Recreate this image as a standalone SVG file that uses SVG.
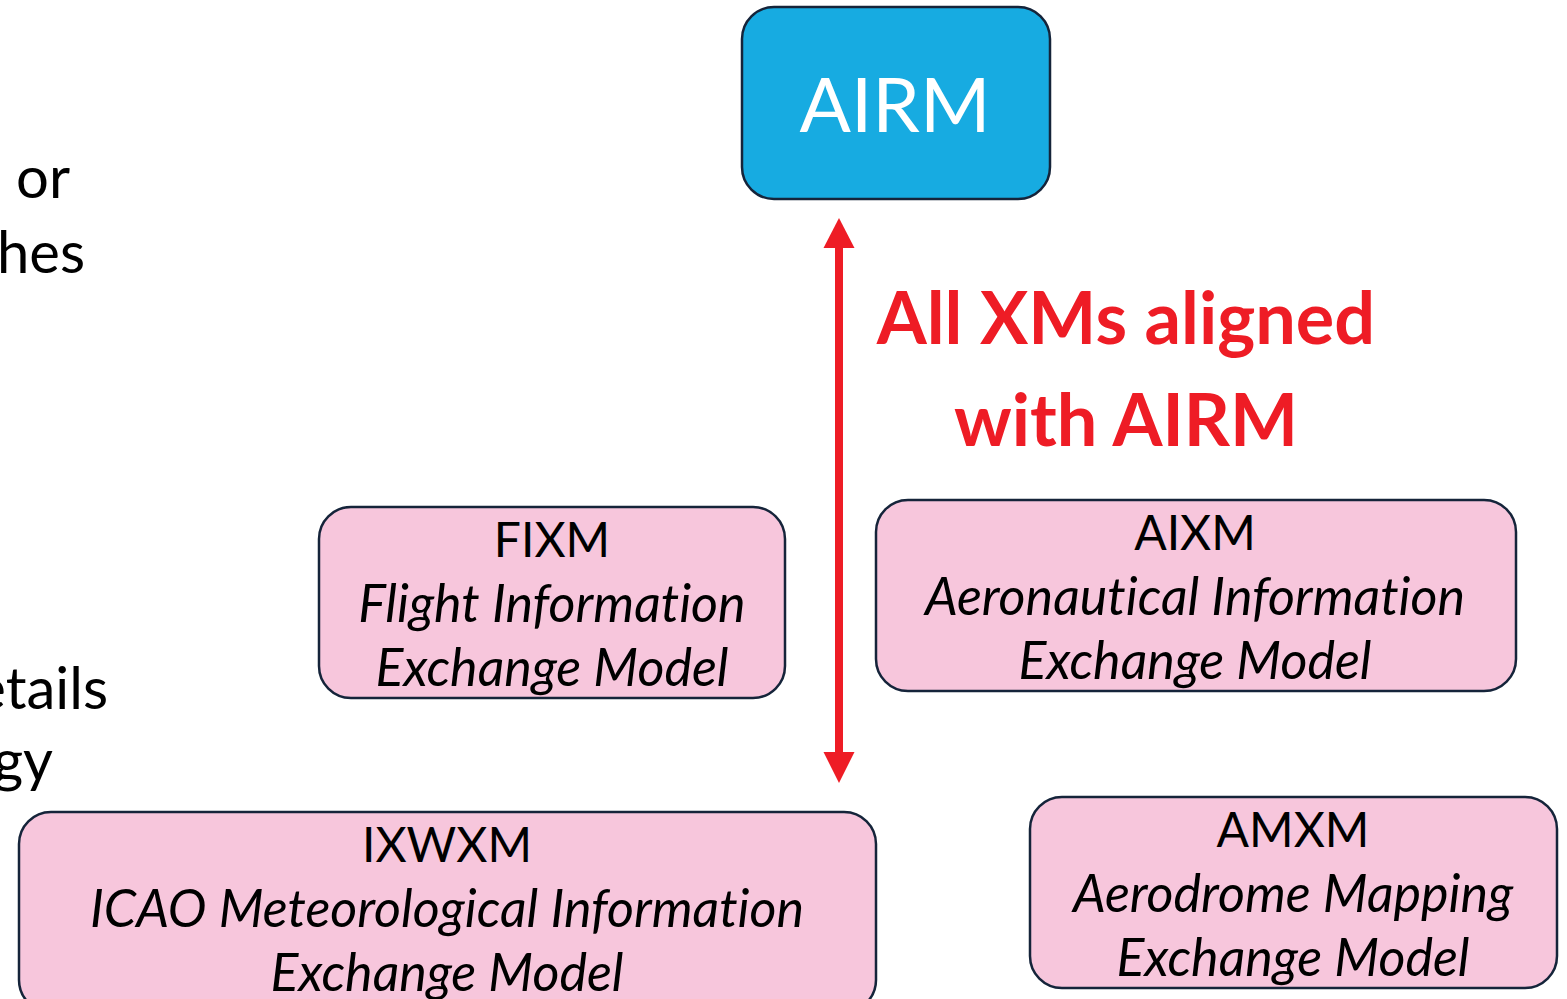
<svg xmlns="http://www.w3.org/2000/svg" width="1567" height="999" viewBox="0 0 1567 999">
<style>
  .box { fill: #F7C6DC; stroke: #15243A; stroke-width: 2.5; }
  .airm { fill: #17ABE1; stroke: #15243A; stroke-width: 2.5; }
  .t { font-family: Lato, "Open Sans", "Liberation Sans", sans-serif; fill: #000; text-anchor: middle; font-variant-ligatures: none; }
  .title { font-size: 48px; }
  .sub { font-size: 52px; font-style: italic; }
  .side { font-family: Lato, "Open Sans", "Liberation Sans", sans-serif; font-size: 58px; fill: #000; text-anchor: end; font-variant-ligatures: none; }
  .red { font-family: Lato, "Open Sans", "Liberation Sans", sans-serif; font-size: 72px; font-weight: bold; fill: #EE1C25; text-anchor: middle; font-variant-ligatures: none; }
</style>
<rect width="1567" height="999" fill="#FFFFFF"/>

<g id="side-text">
  <text class="side" x="70" y="198">or</text>
  <text class="side" x="85" y="273">hes</text>
  <text class="side" x="108" y="709">etails</text>
  <text class="side" x="53" y="781">gy</text>
</g>

<g id="airm">
  <rect class="airm" x="742" y="7" width="308" height="192" rx="32" ry="32"/>
  <text class="t" x="895" y="132" style="font-size:76px; fill:#FFFFFF">AIRM</text>
</g>

<g id="connectors">
  <rect x="835" y="246" width="8" height="508" fill="#EE1C25"/>
  <polygon points="839,218 854.5,248 823.5,248" fill="#EE1C25"/>
  <polygon points="839,783 854.5,752 823.5,752" fill="#EE1C25"/>
</g>

<g id="label">
  <text class="red" x="1126" y="344">All XMs aligned</text>
  <text class="red" x="1126" y="446">with AIRM</text>
</g>

<g id="fixm">
  <rect class="box" x="319" y="507" width="466" height="191" rx="32" ry="32"/>
  <text class="t title" x="552" y="557">FIXM</text>
  <text class="t sub" x="552" y="622">Flight Information</text>
  <text class="t sub" x="552" y="686">Exchange Model</text>
</g>

<g id="aixm">
  <rect class="box" x="876" y="500" width="640" height="191" rx="32" ry="32"/>
  <text class="t title" x="1195" y="550">AIXM</text>
  <text class="t sub" x="1195" y="615">Aeronautical Information</text>
  <text class="t sub" x="1195" y="679">Exchange Model</text>
</g>

<g id="ixwxm">
  <rect class="box" x="19" y="812" width="857" height="200" rx="32" ry="32"/>
  <text class="t title" x="447" y="862">IXWXM</text>
  <text class="t sub" x="447" y="927">ICAO Meteorological Information</text>
  <text class="t sub" x="447" y="991">Exchange Model</text>
</g>

<g id="amxm">
  <rect class="box" x="1030" y="797" width="527" height="191" rx="32" ry="32"/>
  <text class="t title" x="1293" y="847">AMXM</text>
  <text class="t sub" x="1293" y="912">Aerodrome Mapping</text>
  <text class="t sub" x="1293" y="976">Exchange Model</text>
</g>
</svg>
